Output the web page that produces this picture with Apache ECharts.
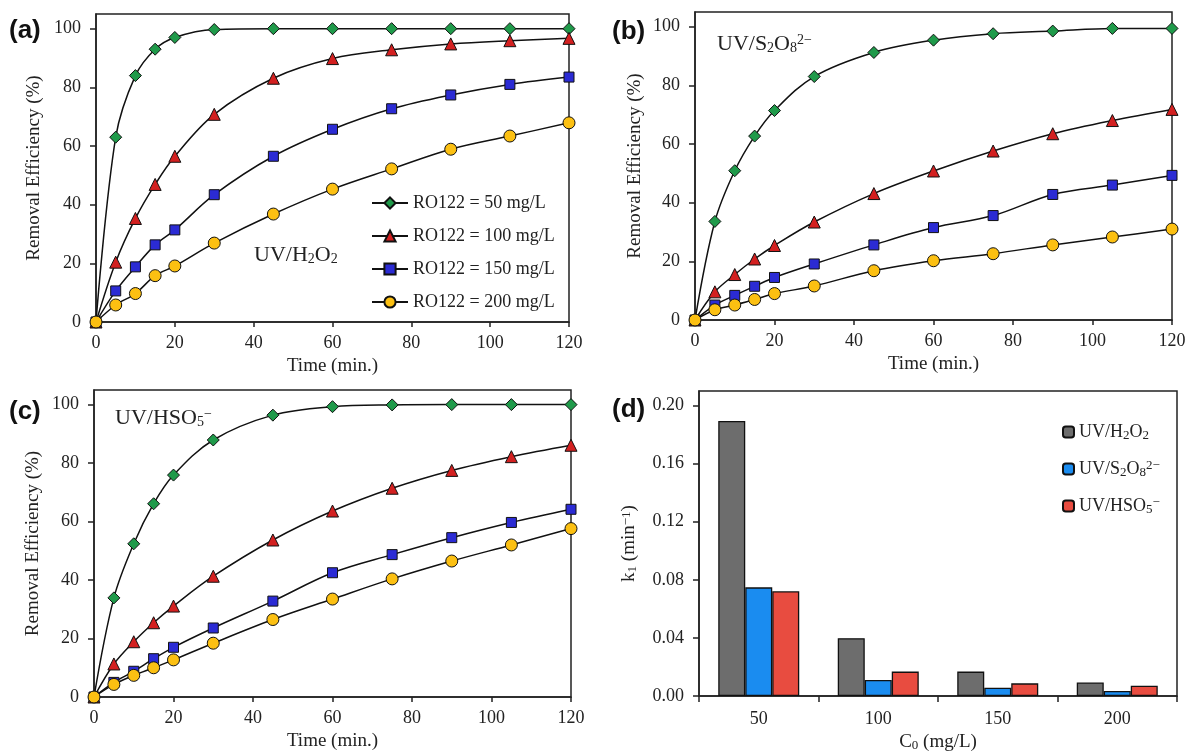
<!DOCTYPE html>
<html lang="en">
<head>
<meta charset="UTF-8"/>
<title>RO122 removal</title>
<script src="https://cdn.jsdelivr.net/npm/echarts@6/dist/echarts.min.js"></script>
<style>html,body{margin:0;padding:0;background:#fff;}</style>
</head>
<body>
<div id="main" style="width:1189px;height:754px;"></div>
<script type="text/javascript">
// sampling times (min.)
var times = [0, 5, 10, 15, 20, 30, 45, 60, 75, 90, 105, 120];
var concNames = ['RO122 = 50 mg/L', 'RO122 = 100 mg/L', 'RO122 = 150 mg/L', 'RO122 = 200 mg/L'];

// (a) UV/H2O2 removal efficiency (%)
var h2o2_50  = [0, 63, 84, 93, 97, 99.7, 100, 100, 100, 100, 100, 100];
var h2o2_100 = [0, 20.4, 35.3, 46.9, 56.5, 70.8, 83.1, 89.8, 92.8, 94.8, 95.9, 96.7];
var h2o2_150 = [0, 10.6, 18.8, 26.3, 31.4, 43.4, 56.5, 65.7, 72.7, 77.4, 81, 83.5];
var h2o2_200 = [0, 5.8, 9.7, 15.8, 19.1, 26.9, 36.8, 45.3, 52.2, 58.9, 63.4, 67.9];

// (b) UV/S2O8 2-
var s2o8_50  = [0, 33.6, 50.9, 62.7, 71.4, 83, 91.2, 95.4, 97.6, 98.5, 99.4, 99.4];
var s2o8_100 = [0, 9.6, 15.5, 20.8, 25.4, 33.4, 43.1, 50.8, 57.6, 63.5, 68, 71.8];
var s2o8_150 = [0, 5.1, 8.4, 11.5, 14.5, 19.1, 25.6, 31.5, 35.6, 42.8, 46, 49.3];
var s2o8_200 = [0, 3.5, 5.1, 7, 9, 11.6, 16.8, 20.2, 22.6, 25.6, 28.3, 31];

// (c) UV/HSO5 -
var hso5_50  = [0, 33.9, 52.4, 66.1, 75.9, 87.9, 96.4, 99.3, 99.9, 100, 100, 100];
var hso5_100 = [0, 11.3, 18.9, 25.4, 31.1, 41.3, 53.7, 63.6, 71.4, 77.5, 82.2, 86.1];
var hso5_150 = [0, 5, 8.8, 13.1, 17, 23.6, 32.8, 42.5, 48.7, 54.5, 59.7, 64.2];
var hso5_200 = [0, 4.3, 7.4, 10, 12.7, 18.4, 26.5, 33.5, 40.4, 46.5, 52, 57.6];

// (d) pseudo first-order rate constants k1 (min-1)
var c0Labels = ['50', '100', '150', '200'];
var k1H2O2 = [0.1893, 0.0398, 0.0168, 0.0093];
var k1S2O8 = [0.0748, 0.0110, 0.0057, 0.0034];
var k1HSO5 = [0.0721, 0.0168, 0.0087, 0.0071];

var serif = '"Liberation Serif", "Times New Roman", serif';
var ink = '#222';
var marks = [
    {symbol: 'diamond', size: 12, color: '#1f9a4a'},
    {symbol: 'triangle', size: 12, color: '#d32020'},
    {symbol: 'rect', size: 10, color: '#2b2bd4'},
    {symbol: 'circle', size: 12, color: '#fcc012'}
];
var subRich = {
    s: {fontFamily: serif, fontSize: 13, color: ink, verticalAlign: 'bottom', lineHeight: 13},
    p: {fontFamily: serif, fontSize: 13, color: ink, verticalAlign: 'top', lineHeight: 13}
};

function pairs(vals) {
    return times.map(function (t, i) { return [t, vals[i]]; });
}

function lineSeries(name, vals, k, gi) {
    return {
        name: name, type: 'line', xAxisIndex: gi, yAxisIndex: gi,
        data: pairs(vals), smooth: 0.35,
        symbol: marks[k].symbol, symbolSize: marks[k].size,
        lineStyle: {color: '#111', width: 1.5},
        itemStyle: {color: marks[k].color, borderColor: '#111', borderWidth: 1},
        emphasis: {disabled: true}, z: 3 + k
    };
}

var axisLine = {show: true, lineStyle: {color: ink, width: 1.5}};
function timeAxis(gi) {
    return {
        type: 'value', gridIndex: gi, min: 0, max: 120, interval: 20,
        name: 'Time (min.)', nameLocation: 'middle', nameGap: 35,
        nameTextStyle: {fontFamily: serif, fontSize: 19, color: ink},
        axisLine: axisLine,
        axisTick: {show: true, length: 5, lineStyle: {color: ink, width: 1.5}},
        axisLabel: {margin: 12, fontFamily: serif, fontSize: 18, color: ink},
        splitLine: {show: false}
    };
}
function effAxis(gi, gap) {
    var ticks = [0, 20, 40, 60, 80, 100];
    return {
        type: 'value', gridIndex: gi, min: 0, max: 105, interval: 20,
        name: 'Removal Efficiency (%)', nameLocation: 'middle', nameGap: gap,
        nameTextStyle: {fontFamily: serif, fontSize: 19, color: ink},
        axisLine: axisLine,
        axisTick: {show: true, length: 6, customValues: ticks, lineStyle: {color: ink, width: 1.5}},
        axisLabel: {margin: 15, customValues: ticks, fontFamily: serif, fontSize: 18, color: ink},
        splitLine: {show: false}
    };
}

var frame = {show: true, borderColor: ink, borderWidth: 1.5, backgroundColor: 'transparent'};
var grids = [
    Object.assign({left: 96, top: 14, width: 473, height: 308}, frame),
    Object.assign({left: 695, top: 12, width: 477, height: 308}, frame),
    Object.assign({left: 94, top: 390, width: 477, height: 307}, frame),
    Object.assign({left: 699, top: 391, width: 478, height: 305}, frame)
];

var kTicks = [0, 0.04, 0.08, 0.12, 0.16, 0.2];
var xAxes = [timeAxis(0), timeAxis(1), timeAxis(2), {
    type: 'category', gridIndex: 3, data: c0Labels,
    name: 'C{s|0} (mg/L)', nameLocation: 'middle', nameGap: 37,
    nameTextStyle: {fontFamily: serif, fontSize: 19, color: ink, rich: subRich},
    axisLine: axisLine,
    axisTick: {show: true, length: 6, lineStyle: {color: ink, width: 1.5}},
    axisLabel: {margin: 14, fontFamily: serif, fontSize: 18, color: ink}
}];
var yAxes = [effAxis(0, 52), effAxis(1, 50), effAxis(2, 51), {
    type: 'value', gridIndex: 3, min: 0, max: 0.21, interval: 0.04,
    name: 'k{s|1} (min{p|\u22121})', nameLocation: 'middle', nameGap: 60,
    nameTextStyle: {fontFamily: serif, fontSize: 19, color: ink, rich: subRich},
    axisLine: axisLine,
    axisTick: {show: true, length: 6, customValues: kTicks, lineStyle: {color: ink, width: 1.5}},
    axisLabel: {margin: 15, customValues: kTicks, fontFamily: serif, fontSize: 18, color: ink,
        formatter: function (v) { return v.toFixed(2); }},
    splitLine: {show: false}
}];

var series = [];
[h2o2_50, h2o2_100, h2o2_150, h2o2_200].forEach(function (v, k) { series.push(lineSeries(concNames[k], v, k, 0)); });
[s2o8_50, s2o8_100, s2o8_150, s2o8_200].forEach(function (v, k) { series.push(lineSeries('b ' + concNames[k], v, k, 1)); });
[hso5_50, hso5_100, hso5_150, hso5_200].forEach(function (v, k) { series.push(lineSeries('c ' + concNames[k], v, k, 2)); });

var barNames = ['UV/H2O2', 'UV/S2O8', 'UV/HSO5'];
var barRich = ['UV/H{s|2}O{s|2}', 'UV/S{s|2}O{s|8}{p|2\u2212}', 'UV/HSO{s|5}{p|\u2212}'];
var barColors = ['#6d6d6d', '#1a8cf0', '#e84c40'];
[k1H2O2, k1S2O8, k1HSO5].forEach(function (v, k) {
    series.push({
        name: barNames[k], type: 'bar', xAxisIndex: 3, yAxisIndex: 3, data: v,
        barWidth: 27, barGap: '0%',
        itemStyle: {color: barColors[k], borderColor: '#111', borderWidth: 1.3},
        emphasis: {disabled: true}
    });
});

function note(x, y, text) {
    return {
        type: 'text', x: x, y: y, z: 50,
        style: {text: text, fontFamily: serif, fontSize: 22, fill: ink, verticalAlign: 'middle',
            rich: {
                s: {fontFamily: serif, fontSize: 14, fill: ink, verticalAlign: 'bottom', lineHeight: 14},
                p: {fontFamily: serif, fontSize: 14, fill: ink, verticalAlign: 'top', lineHeight: 14}
            }}
    };
}
function panelTag(x, y, t) {
    return {type: 'text', x: x, y: y, z: 50,
        style: {text: t, fontFamily: '"Liberation Sans", Arial, sans-serif', fontWeight: 'bold',
            fontSize: 26, fill: '#111', verticalAlign: 'middle'}};
}

var myChart = echarts.init(document.getElementById('main'));
myChart.setOption({
    animation: false,
    backgroundColor: '#fff',
    grid: grids,
    xAxis: xAxes,
    yAxis: yAxes,
    legend: [{
        data: concNames, orient: 'vertical', left: 366, top: 188,
        itemWidth: 36, itemHeight: 14, itemGap: 13,
        textStyle: {fontFamily: serif, fontSize: 18, color: ink, lineHeight: 20}
    }, {
        data: barNames, orient: 'vertical', left: 1057, top: 417,
        itemWidth: 11, itemHeight: 11, itemGap: 17,
        formatter: function (n) { return barRich[barNames.indexOf(n)]; },
        textStyle: {fontFamily: serif, fontSize: 18, color: ink, lineHeight: 20, rich: subRich}
    }],
    graphic: [
        panelTag(9, 31, '(a)'), panelTag(612, 32, '(b)'),
        panelTag(9, 412, '(c)'), panelTag(612, 410, '(d)'),
        note(254, 255, 'UV/H{s|2}O{s|2}'),
        note(717, 44, 'UV/S{s|2}O{s|8}{p|2\u2212}'),
        note(115, 418, 'UV/HSO{s|5}{p|\u2212}')
    ],
    series: series
});
</script>
</body>
</html>
